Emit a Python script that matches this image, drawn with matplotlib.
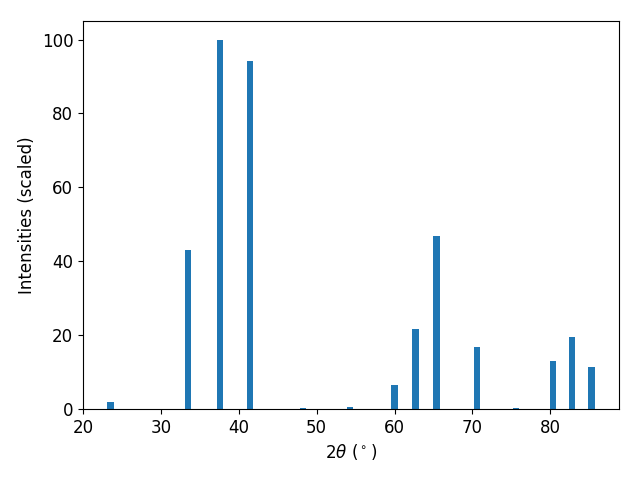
import matplotlib
matplotlib.use('Agg')
import matplotlib.pyplot as plt

# peak positions (2 theta) and scaled intensities
two_theta = [23.5, 33.5, 37.6, 41.4, 48.2, 54.3, 60.0, 62.7, 65.4, 70.6, 75.6, 80.4, 82.8, 85.3]
intensity = [1.9, 42.9, 100.0, 94.3, 0.3, 0.5, 6.5, 21.7, 46.9, 16.8, 0.3, 13.0, 19.5, 11.4]

plt.rcParams['font.size'] = 12

fig, ax = plt.subplots(figsize=(6.4, 4.8), dpi=100)
ax.bar(two_theta, intensity, width=0.8)
ax.set_xlabel(r'2$\theta$ ($^\circ$)')
ax.set_ylabel('Intensities (scaled)')
fig.subplots_adjust(left=0.1297, right=0.967, top=0.956, bottom=0.148)
fig.savefig('out.png')
